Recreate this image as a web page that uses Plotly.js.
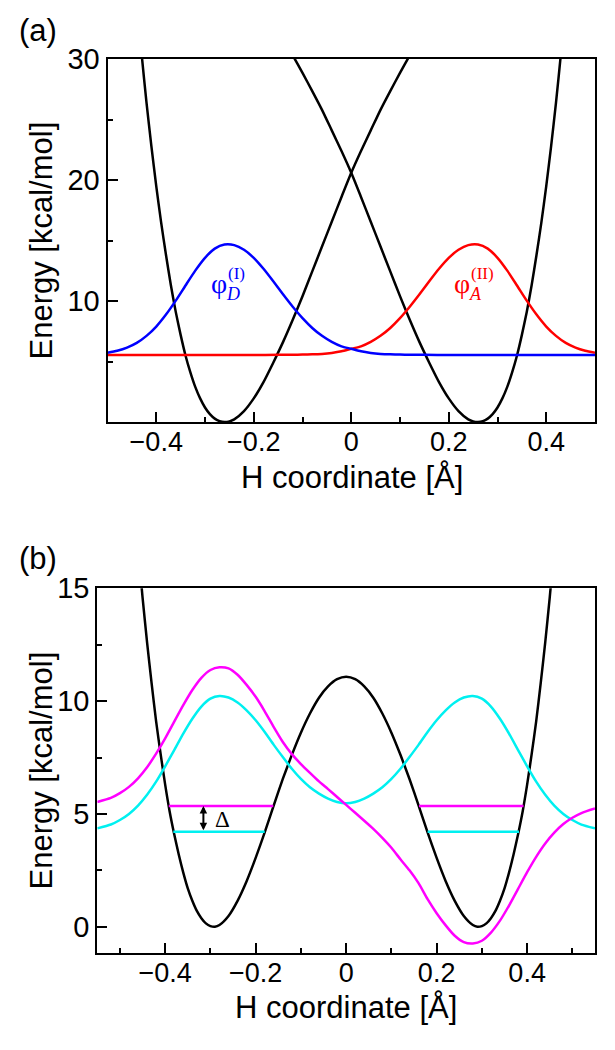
<!DOCTYPE html>
<html>
<head>
<meta charset="utf-8">
<script src="https://cdn.plot.ly/plotly-3.0.1.min.js"></script>
<style>html,body{margin:0;padding:0;background:#fff;}#chart{width:615px;height:1050px;}</style>
</head>
<body>
<div id="chart"></div>
<script>
// ---------- Panel (a) data ----------
const aWellLeftX = [-0.44,-0.43,-0.42,-0.41,-0.40,-0.39,-0.38,-0.37,-0.36,-0.35,-0.34,-0.33,-0.32,-0.31,-0.30,-0.29,-0.28,-0.27,-0.26,-0.25,-0.24,-0.22,-0.20,-0.18,-0.16,-0.14,-0.12,-0.10,-0.08,-0.06,-0.04,-0.02,0.00,0.02,0.04,0.06,0.08,0.10,0.12,0.14];
const aWellLeftE = [35.0,30.4,26.4,22.8,19.5,16.5,13.8,11.3,9.1,7.2,5.5,4.1,2.9,1.95,1.2,0.65,0.28,0.07,0.0,0.05,0.22,0.9,1.95,3.3,4.9,6.6,8.45,10.4,12.45,14.5,16.55,18.6,20.6,22.4,24.1,25.8,27.35,28.85,30.3,31.7];
const aWellRightX = [-0.14,-0.12,-0.10,-0.08,-0.06,-0.04,-0.02,0.00,0.02,0.04,0.06,0.08,0.10,0.12,0.14,0.16,0.18,0.20,0.22,0.24,0.25,0.26,0.27,0.28,0.29,0.30,0.31,0.32,0.33,0.34,0.35,0.36,0.37,0.38,0.39,0.40,0.41,0.42,0.43,0.44];
const aWellRightE = [31.7,30.3,28.85,27.35,25.8,24.1,22.4,20.6,18.6,16.55,14.5,12.45,10.4,8.45,6.6,4.9,3.3,1.95,0.9,0.22,0.05,0.0,0.07,0.28,0.65,1.2,1.95,2.9,4.1,5.5,7.2,9.1,11.3,13.8,16.5,19.5,22.8,26.4,30.4,35.0];
const aDonorX = [-0.50,-0.48,-0.46,-0.44,-0.42,-0.40,-0.38,-0.36,-0.34,-0.32,-0.30,-0.28,-0.26,-0.24,-0.22,-0.20,-0.18,-0.16,-0.14,-0.12,-0.10,-0.08,-0.06,-0.04,-0.02,0.00,0.02,0.04,0.06,0.08,0.10,0.12,0.15,0.20,0.30,0.40,0.50];
const aDonorE = [5.72,5.89,6.15,6.54,7.12,7.89,8.88,10.03,11.28,12.51,13.57,14.33,14.67,14.62,14.23,13.56,12.66,11.63,10.55,9.52,8.58,7.77,7.12,6.62,6.25,6.05,5.84,5.71,5.63,5.59,5.57,5.56,5.55,5.54,5.54,5.54,5.54];
const aAcceptorX = [-0.50,-0.40,-0.30,-0.20,-0.15,-0.12,-0.10,-0.08,-0.06,-0.04,-0.02,0.00,0.02,0.04,0.06,0.08,0.10,0.12,0.14,0.16,0.18,0.20,0.22,0.24,0.26,0.28,0.30,0.32,0.34,0.36,0.38,0.40,0.42,0.44,0.46,0.48,0.50];
const aAcceptorE = [5.54,5.54,5.54,5.54,5.55,5.56,5.57,5.59,5.63,5.71,5.84,6.05,6.25,6.62,7.12,7.77,8.58,9.52,10.55,11.63,12.66,13.56,14.23,14.62,14.67,14.33,13.57,12.51,11.28,10.03,8.88,7.89,7.12,6.54,6.15,5.89,5.72];

// ---------- Panel (b) data ----------
const bPotX = [-0.46,-0.45,-0.44,-0.43,-0.42,-0.41,-0.40,-0.39,-0.38,-0.37,-0.36,-0.35,-0.34,-0.33,-0.32,-0.31,-0.30,-0.29,-0.28,-0.26,-0.24,-0.22,-0.20,-0.18,-0.16,-0.14,-0.12,-0.10,-0.08,-0.06,-0.04,-0.02,0.00,0.02,0.04,0.06,0.08,0.10,0.12,0.14,0.16,0.18,0.20,0.22,0.24,0.26,0.28,0.29,0.30,0.31,0.32,0.33,0.34,0.35,0.36,0.37,0.38,0.39,0.40,0.41,0.42,0.43,0.44,0.45,0.46];
const bPotE = [16.8,14.6,12.6,10.8,9.1,7.65,6.3,5.1,4.1,3.2,2.4,1.7,1.15,0.7,0.38,0.15,0.03,0.0,0.08,0.48,1.15,2.02,3.05,4.18,5.38,6.55,7.62,8.6,9.45,10.15,10.65,10.97,11.08,10.97,10.65,10.15,9.45,8.6,7.62,6.55,5.38,4.18,3.05,2.02,1.15,0.48,0.08,0.0,0.03,0.15,0.38,0.7,1.15,1.7,2.4,3.2,4.1,5.1,6.3,7.65,9.1,10.8,12.6,14.6,16.8];
const bWaveX = [-0.55,-0.52,-0.50,-0.48,-0.46,-0.44,-0.42,-0.40,-0.38,-0.36,-0.34,-0.32,-0.30,-0.28,-0.26,-0.24,-0.22,-0.20,-0.18,-0.16,-0.14,-0.12,-0.10,-0.08,-0.06,-0.04,-0.02,0.00,0.02,0.04,0.06,0.08,0.10,0.12,0.14,0.16,0.18,0.20,0.22,0.24,0.26,0.28,0.30,0.32,0.34,0.36,0.38,0.40,0.42,0.44,0.46,0.48,0.50,0.52,0.55];
const bGroundE = [4.36,4.53,4.73,5.00,5.37,5.85,6.43,7.11,7.83,8.56,9.22,9.76,10.11,10.23,10.16,9.94,9.59,9.15,8.63,8.06,7.52,7.00,6.55,6.18,5.90,5.68,5.53,5.47,5.53,5.68,5.90,6.18,6.55,7.00,7.52,8.06,8.63,9.15,9.59,9.94,10.16,10.23,10.11,9.76,9.22,8.56,7.83,7.11,6.43,5.85,5.37,5.00,4.73,4.53,4.36];
const bExcitedE = [5.53,5.71,5.92,6.20,6.58,7.07,7.67,8.35,9.09,9.82,10.49,11.03,11.38,11.50,11.45,11.17,10.72,10.19,9.55,8.85,8.19,7.65,7.21,6.82,6.44,6.10,5.75,5.40,5.05,4.70,4.34,3.94,3.50,2.99,2.50,1.93,1.22,0.60,0.06,-0.40,-0.68,-0.74,-0.62,-0.26,0.27,0.94,1.68,2.42,3.10,3.69,4.17,4.55,4.83,5.04,5.24];
const bGroundLevelX = [-0.382,-0.180,null,0.180,0.382];
const bGroundLevelE = [4.21,4.21,null,4.21,4.21];
const bExcitedLevelX = [-0.392,-0.161,null,0.161,0.392];
const bExcitedLevelE = [5.35,5.35,null,5.35,5.35];

// tick labels
const aXTicks = [-0.4,-0.2,0,0.2,0.4];
const aYTicks = [0,10,20,30];
const aYTickText = ['','10','20','30'];
const bYTicks = [0,5,10,15];
const bYTickText = ['0','5','10','15'];

const W = 615, H = 1050;
const px = v => v / W;
const py = v => 1 - v / H;

const LW = 2.5;
function line(x, y, color, xa, ya) {
  return {x: x, y: y, type: 'scatter', mode: 'lines', xaxis: xa, yaxis: ya,
          line: {color: color, width: LW, shape: 'spline', smoothing: 0.6},
          hoverinfo: 'skip'};
}
function flat(x, y, color, xa, ya) {
  return {x: x, y: y, type: 'scatter', mode: 'lines', xaxis: xa, yaxis: ya,
          line: {color: color, width: LW}, connectgaps: false, hoverinfo: 'skip'};
}

const data = [
  line(aWellLeftX, aWellLeftE, '#000000', 'x', 'y'),
  line(aWellRightX, aWellRightE, '#000000', 'x', 'y'),
  line(aAcceptorX, aAcceptorE, '#ff0000', 'x', 'y'),
  line(aDonorX, aDonorE, '#0000ff', 'x', 'y'),
  line(bPotX, bPotE, '#000000', 'x2', 'y2'),
  line(bWaveX, bGroundE, '#00f0f0', 'x2', 'y2'),
  line(bWaveX, bExcitedE, '#ff00ff', 'x2', 'y2'),
  flat(bGroundLevelX, bGroundLevelE, '#00f0f0', 'x2', 'y2'),
  flat(bExcitedLevelX, bExcitedLevelE, '#ff00ff', 'x2', 'y2')
];

const axisCommon = {
  showline: true, linewidth: 2, linecolor: '#000', mirror: true,
  ticks: 'inside', ticklen: 10, tickwidth: 2, tickcolor: '#000',
  showgrid: false, zeroline: false, fixedrange: true
};

const sans = 'Liberation Sans, Arial, Helvetica, sans-serif';
const serif = 'Liberation Serif, Times New Roman, serif';

const layout = {
  width: W, height: H,
  margin: {l: 0, r: 0, t: 0, b: 0},
  paper_bgcolor: '#fff', plot_bgcolor: '#fff',
  showlegend: false,
  font: {family: sans, color: '#000'},
  xaxis: Object.assign({}, axisCommon, {
    domain: [px(107.5), px(595)], range: [-0.5, 0.5], anchor: 'y',
    tickmode: 'array', tickvals: aXTicks, tickfont: {size: 27, family: sans},
    ticklabelstandoff: -5,
    minor: {ticks: 'inside', ticklen: 5, tickwidth: 2, tickcolor: '#000', tickmode: 'array', tickvals: [-0.3,-0.1,0.1,0.3]}
  }),
  yaxis: Object.assign({}, axisCommon, {
    domain: [py(422), py(59)], range: [0, 30], anchor: 'x',
    tickmode: 'array', tickvals: aYTicks, ticktext: aYTickText, tickfont: {size: 29, family: sans},
    ticklabelstandoff: 0,
    minor: {ticks: 'inside', ticklen: 5, tickwidth: 2, tickcolor: '#000', tickmode: 'array', tickvals: [5,15,25]}
  }),
  xaxis2: Object.assign({}, axisCommon, {
    domain: [px(97.3), px(595)], range: [-0.55, 0.55], anchor: 'y2',
    tickmode: 'array', tickvals: aXTicks, tickfont: {size: 27, family: sans},
    ticklabelstandoff: -5,
    minor: {ticks: 'inside', ticklen: 5, tickwidth: 2, tickcolor: '#000', tickmode: 'array', tickvals: [-0.5,-0.3,-0.1,0.1,0.3,0.5]}
  }),
  yaxis2: Object.assign({}, axisCommon, {
    domain: [py(952.7), py(588.3)], range: [-1.15, 15], anchor: 'x2',
    tickmode: 'array', tickvals: bYTicks, ticktext: bYTickText, tickfont: {size: 29, family: sans},
    ticklabelstandoff: 0,
    minor: {ticks: 'inside', ticklen: 5, tickwidth: 2, tickcolor: '#000', tickmode: 'array', tickvals: [2.5,7.5,12.5]}
  }),
  annotations: [
    // panel labels
    {text: '(a)', xref: 'paper', yref: 'paper', x: px(17), y: py(10.8), xanchor: 'left', yanchor: 'top', showarrow: false, font: {size: 31, family: sans}},
    {text: '(b)', xref: 'paper', yref: 'paper', x: px(17), y: py(538.5), xanchor: 'left', yanchor: 'top', showarrow: false, font: {size: 31, family: sans}},
    // axis titles
    {text: 'H coordinate [Å]', xref: 'paper', yref: 'paper', x: px(351.5), y: py(458), xanchor: 'center', yanchor: 'top', showarrow: false, font: {size: 31, family: sans}},
    {text: 'H coordinate [Å]', xref: 'paper', yref: 'paper', x: px(346.5), y: py(988), xanchor: 'center', yanchor: 'top', showarrow: false, font: {size: 31, family: sans}},
    {text: 'Energy [kcal/mol]', xref: 'paper', yref: 'paper', x: px(41), y: py(240.5), xanchor: 'center', yanchor: 'middle', textangle: -90, showarrow: false, font: {size: 31, family: sans}},
    {text: 'Energy [kcal/mol]', xref: 'paper', yref: 'paper', x: px(41), y: py(770.5), xanchor: 'center', yanchor: 'middle', textangle: -90, showarrow: false, font: {size: 31, family: sans}},
    // phi_D^(I)
    {text: 'φ', xref: 'paper', yref: 'paper', x: px(219), y: py(283), xanchor: 'center', yanchor: 'middle', showarrow: false, font: {size: 28, family: serif, color: '#0000ff'}},
    {text: '(I)', xref: 'paper', yref: 'paper', x: px(236), y: py(273), xanchor: 'center', yanchor: 'middle', showarrow: false, font: {size: 17, family: serif, color: '#0000ff'}},
    {text: '<i>D</i>', xref: 'paper', yref: 'paper', x: px(233), y: py(294), xanchor: 'center', yanchor: 'middle', showarrow: false, font: {size: 18, family: serif, color: '#0000ff'}},
    // phi_A^(II)
    {text: 'φ', xref: 'paper', yref: 'paper', x: px(461.5), y: py(283), xanchor: 'center', yanchor: 'middle', showarrow: false, font: {size: 28, family: serif, color: '#ff0000'}},
    {text: '(II)', xref: 'paper', yref: 'paper', x: px(482), y: py(273), xanchor: 'center', yanchor: 'middle', showarrow: false, font: {size: 17, family: serif, color: '#ff0000'}},
    {text: '<i>A</i>', xref: 'paper', yref: 'paper', x: px(475.5), y: py(294), xanchor: 'center', yanchor: 'middle', showarrow: false, font: {size: 18, family: serif, color: '#ff0000'}},
    // Delta arrow
    {text: '', xref: 'x2', yref: 'y2', x: -0.3155, y: 5.35, axref: 'x2', ayref: 'y2', ax: -0.3155, ay: 4.21,
     showarrow: true, arrowside: 'end+start', arrowhead: 2, arrowsize: 0.75, arrowwidth: 2, arrowcolor: '#000', standoff: 0, startstandoff: 0},
    {text: 'Δ', xref: 'x2', yref: 'y2', x: -0.274, y: 4.76, xanchor: 'center', yanchor: 'middle', showarrow: false, font: {size: 23, family: serif, color: '#000'}}
  ]
};

Plotly.newPlot('chart', data, layout, {staticPlot: true, displayModeBar: false});
</script>
</body>
</html>
